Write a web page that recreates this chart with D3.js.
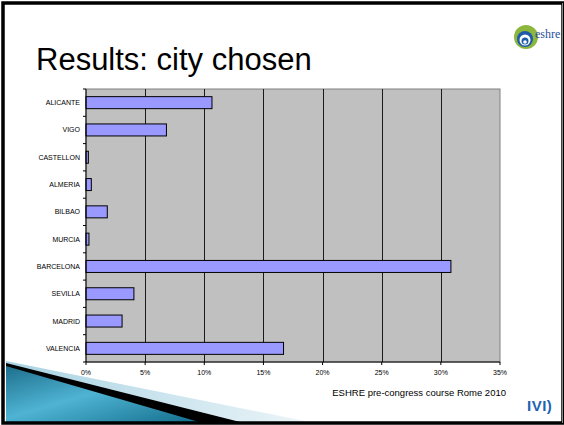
<!DOCTYPE html>
<html>
<head>
<meta charset="utf-8">
<script src="https://cdn.jsdelivr.net/npm/d3@7"></script>
<style>
  body { margin: 0; background: #fff; }
  svg { display: block; font-family: "Liberation Sans", Arial, sans-serif; }
</style>
</head>
<body>
<div id="chart"></div>
<script>
// data (share of answers, %)
var cities = ["ALICANTE", "VIGO", "CASTELLON", "ALMERIA", "BILBAO", "MURCIA", "BARCELONA", "SEVILLA", "MADRID", "VALENCIA"];
var shares = [10.65, 6.8, 0.2, 0.45, 1.8, 0.25, 30.85, 4.05, 3.05, 16.7];
var xTicks = [0, 5, 10, 15, 20, 25, 30, 35];

var width = 564, height = 425;
var plot = {left: 86, right: 500, top: 89, bottom: 362};

var svg = d3.select("#chart").append("svg")
    .attr("width", width)
    .attr("height", height);

svg.append("rect").attr("x", 0).attr("y", 0).attr("width", width).attr("height", height).attr("fill", "#fff");

// bottom-left decoration
var defs = svg.append("defs");
var g1 = defs.append("linearGradient").attr("id", "pale").attr("x1", "0").attr("x2", "1").attr("y1", "0").attr("y2", "0");
g1.append("stop").attr("offset", "0").attr("stop-color", "#a9d3e3");
g1.append("stop").attr("offset", "1").attr("stop-color", "#eef6f9");
var g2 = defs.append("linearGradient").attr("id", "deep").attr("x1", "0").attr("x2", "1").attr("y1", "0").attr("y2", "1");
g2.append("stop").attr("offset", "0").attr("stop-color", "#1d6f8c");
g2.append("stop").attr("offset", "0.45").attr("stop-color", "#4fb3d3");
g2.append("stop").attr("offset", "1").attr("stop-color", "#0f6a87");

var line = d3.line();
svg.append("path").attr("d", line([[6, 361], [320, 424], [6, 424]]) + "Z").attr("fill", "url(#pale)");
svg.append("path").attr("d", line([[6, 363], [248, 424], [6, 424]]) + "Z").attr("fill", "#000");
svg.append("path").attr("d", line([[6, 366], [206, 424], [6, 424]]) + "Z").attr("fill", "url(#deep)");

// frame edges
svg.append("rect").attr("x", 3).attr("y", 3).attr("width", 560).attr("height", 420)
    .attr("fill", "none").attr("stroke", "#000").attr("stroke-width", 3.5);
svg.append("line").attr("x1", 562.5).attr("x2", 562.5).attr("y1", 3).attr("y2", 423)
    .attr("stroke", "#888").attr("stroke-width", 1);

// title
svg.append("text")
    .attr("x", 36).attr("y", 70)
    .style("font-size", "31px")
    .style("fill", "#000")
    .text("Results: city chosen");

// scales
var x = d3.scaleLinear().domain([0, 35]).range([plot.left, plot.right]);
var y = d3.scaleBand().domain(cities).range([plot.top, plot.bottom]).paddingInner(0.56).paddingOuter(0.28);
var yb = d3.scaleBand().domain(cities).range([plot.top, plot.bottom]);

// plot background
svg.append("rect")
    .attr("x", plot.left).attr("y", plot.top)
    .attr("width", plot.right - plot.left).attr("height", plot.bottom - plot.top)
    .attr("fill", "#c0c0c0").attr("stroke", "#808080").attr("stroke-width", 1);

// gridlines
svg.append("g").selectAll("line")
    .data(xTicks.slice(1, -1))
    .enter().append("line")
    .attr("x1", d => Math.round(x(d)) + 0.5).attr("x2", d => Math.round(x(d)) + 0.5)
    .attr("y1", plot.top).attr("y2", plot.bottom)
    .attr("stroke", "#1a1a1a").attr("stroke-width", 1);

// bars
svg.append("g").selectAll("rect")
    .data(cities)
    .enter().append("rect")
    .attr("x", plot.left)
    .attr("y", d => y(d))
    .attr("width", (d, i) => x(shares[i]) - plot.left)
    .attr("height", y.bandwidth())
    .attr("fill", "#9999ff")
    .attr("stroke", "#000")
    .attr("stroke-width", 1);

// y axis
var yAxis = svg.append("g").attr("transform", "translate(" + plot.left + ",0)");
yAxis.append("line").attr("x1", 0).attr("x2", 0).attr("y1", plot.top).attr("y2", plot.bottom).attr("stroke", "#000");
yAxis.selectAll(".tick")
    .data(cities.map(d => yb(d)).concat([plot.bottom]))
    .enter().append("line")
    .attr("x1", -3).attr("x2", 0)
    .attr("y1", d => d).attr("y2", d => d)
    .attr("stroke", "#000");
yAxis.selectAll(".lab")
    .data(cities)
    .enter().append("text")
    .attr("x", -6)
    .attr("y", d => yb(d) + yb.bandwidth() / 2)
    .attr("dy", "0.35em")
    .attr("text-anchor", "end")
    .style("font-size", "7px")
    .text(d => d);

// x axis
var xAxis = svg.append("g").attr("transform", "translate(0," + plot.bottom + ")");
xAxis.append("line").attr("x1", plot.left).attr("x2", plot.right).attr("y1", 0).attr("y2", 0).attr("stroke", "#000");
xAxis.selectAll(".tick")
    .data(xTicks)
    .enter().append("line")
    .attr("x1", d => x(d)).attr("x2", d => x(d))
    .attr("y1", 0).attr("y2", 3)
    .attr("stroke", "#000");
xAxis.selectAll(".lab")
    .data(xTicks)
    .enter().append("text")
    .attr("x", d => x(d))
    .attr("y", 13)
    .attr("text-anchor", "middle")
    .style("font-size", "7px")
    .text(d => d + "%");

// footer
svg.append("text")
    .attr("x", 506).attr("y", 396)
    .attr("text-anchor", "end")
    .style("font-size", "9.5px")
    .text("ESHRE pre-congress course Rome 2010");

svg.append("text")
    .attr("x", 527).attr("y", 411)
    .style("font-size", "15px").style("font-weight", "bold")
    .style("letter-spacing", "0.5px")
    .style("fill", "#1b64b0")
    .text("IVI)");

// eshre logo
var logo = svg.append("g").attr("transform", "translate(526,37)");
logo.append("circle").attr("r", 12).attr("fill", "#8cb63c");
logo.append("circle").attr("r", 8).attr("cx", -1).attr("cy", 2).attr("fill", "#1e5aa8");
logo.append("circle").attr("r", 5.5).attr("cx", -1).attr("cy", 3).attr("fill", "#fff");
logo.append("circle").attr("r", 3.5).attr("cx", -1).attr("cy", 4).attr("fill", "#1e5aa8");
logo.append("circle").attr("r", 1.8).attr("cx", -1).attr("cy", 5).attr("fill", "#fff");
logo.append("text")
    .attr("x", 9).attr("y", 1)
    .style("font-family", "'Liberation Serif', serif")
    .style("font-size", "12px")
    .style("fill", "#2a4f9a")
    .text("eshre");
</script>
</body>
</html>
